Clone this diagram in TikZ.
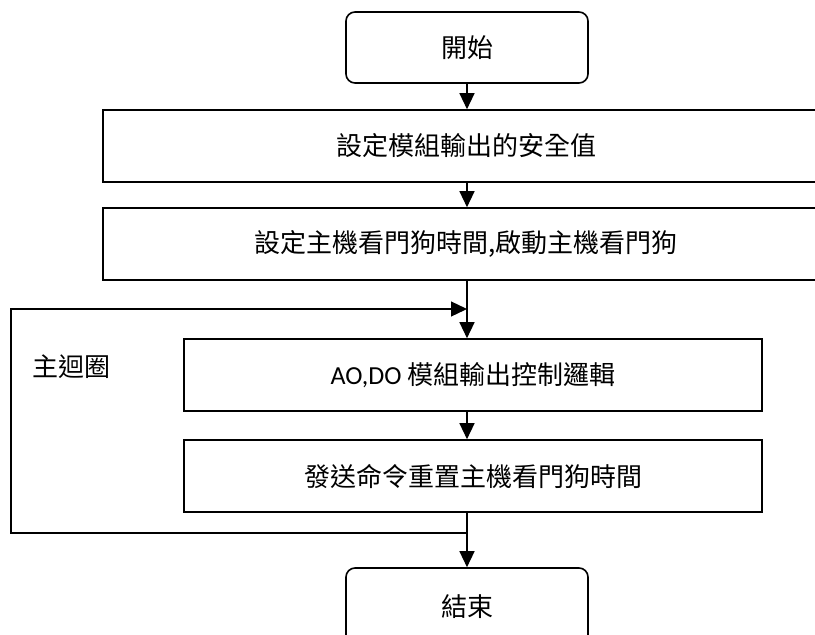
\documentclass[tikz,border=0pt]{standalone}
\usepackage{fontspec}
\setmainfont{Noto Sans CJK TC}
\newfontfamily\latinf{Carlito}
\usetikzlibrary{arrows.meta}
\begin{document}
\begin{tikzpicture}[x=1pt,y=-1pt,
  box/.style={draw, line width=1.6pt, minimum height=72pt, inner sep=0pt, font=\fontsize{26}{30}\selectfont},
  term/.style={box, rounded corners=9pt},
  arr/.style={line width=1.3pt, -{Triangle[length=16pt,width=15pt]}},
  loopline/.style={line width=1.5pt}]
\useasboundingbox (0,0) rectangle (815,635);
\clip (0,0) rectangle (815,635);
\node[term, minimum width=242pt, minimum height=71pt] (start) at (467,47.5) {開始};
\node[box, minimum width=726pt] (b1) at (466,146) {設定模組輸出的安全值};
\node[box, minimum width=726pt] (b2) at (466,244) {設定主機看門狗時間,啟動主機看門狗};
\node[box, minimum width=578pt] (b3) at (473,375) {{\latinf AO,DO} 模組輸出控制邏輯};
\node[box, minimum width=578pt] (b4) at (473,476) {發送命令重置主機看門狗時間};
\node[term, minimum width=242pt, minimum height=77pt] (end) at (467,606.5) {結束};
\node[font=\fontsize{26}{30}\selectfont, inner sep=0pt] (lbl) at (71,367) {主迴圈};
\coordinate (lb) at (467,533);
\coordinate (ll) at (11,533);
\coordinate (lt) at (11,309);
\coordinate (lr) at (467,309);
\draw[arr] (start.south) -- (b1.north -| start.south);
\draw[arr] (b1.south -| start.south) -- (b2.north -| start.south);
\draw[arr] (b2.south -| start.south) -- (b3.north -| start.south);
\draw[arr] (b3.south -| start.south) -- (b4.north -| start.south);
\draw[arr] (b4.south -| start.south) -- (end.north);
\draw[loopline] (lb) -- (ll) -- (lt) -- ([xshift=-8pt]lr);
\draw[arr] (lt) -- (lr);
\end{tikzpicture}
\end{document}
